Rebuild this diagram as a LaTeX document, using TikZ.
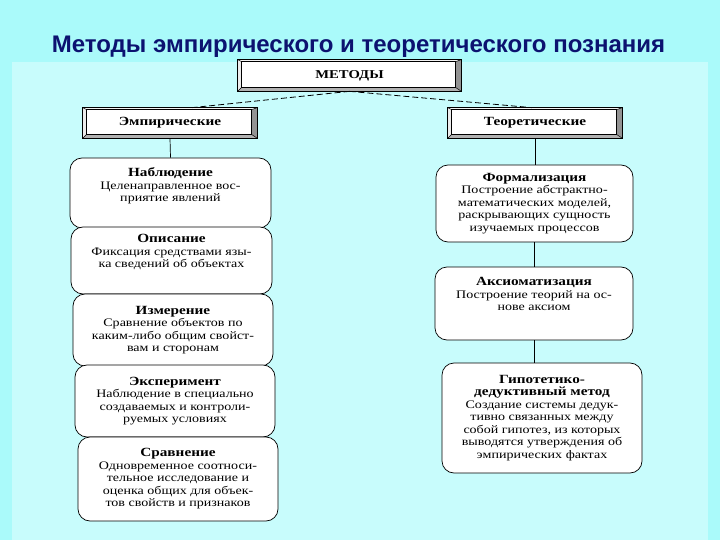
\documentclass[tikz,border=0pt]{standalone}
\usepackage{fontspec}
\usepackage{xcolor}
\usepackage{tikz}
\usetikzlibrary{calc}
\setmainfont{Liberation Serif}
\newfontfamily\boxfont[FakeStretch=1.22]{Liberation Serif}
\newfontfamily\titlefont{Liberation Sans}
\definecolor{outerbg}{RGB}{170,250,250}
\definecolor{innerbg}{RGB}{200,252,252}
\definecolor{titleblue}{RGB}{12,18,112}
\newcommand\headfont{\bfseries\fontsize{12.5}{12.5}\selectfont}
\tikzset{
  every path/.style = {line width = 0.7pt},
  method/.style = {draw, fill = white, rounded corners = 12pt, align = center, inner sep = 0pt,
    font = \boxfont\fontsize{11.5}{12.5}\selectfont},
  bevel/.style = {draw, fill = white, inner sep = 0pt,
    font = \boxfont\bfseries\fontsize{12.5}{14}\selectfont},
  link/.style = {line width = 0.7pt},
  branch/.style = {line width = 0.8pt, dash pattern = on 6pt off 3pt}
}

\begin{document}
\begin{tikzpicture}[x = 1pt, y = -1pt]
	\useasboundingbox (0,0) rectangle (720,540);
	\fill [outerbg] (0,0) rectangle (720,540);
	\fill [innerbg] (12,62) rectangle (708,540);
	\node [anchor = base, text = titleblue, font = \titlefont\bfseries\fontsize{24}{28}\selectfont] (title) at (358.5,53) {Методы эмпирического и теоретического познания};
	% top boxes
	\node [bevel, minimum width = 223, minimum height = 31] (metody) at (349.5,75.5) {\fontsize{12}{14}\selectfont МЕТОДЫ};
	\node [bevel, minimum width = 174, minimum height = 30] (emp) at (170,123) {Эмпирические};
	\node [bevel, minimum width = 174, minimum height = 30] (teor) at (535,123) {Теоретические};
	\foreach \n in {metody,emp,teor} {
		\fill [gray!15] (\n.north west) -- (\n.south west) -- ($(\n.south west)+(4,-4)$) -- ($(\n.north west)+(4,2)$) -- cycle;
		\fill [gray!10] (\n.north west) -- (\n.north east) -- ($(\n.north east)+(-6,2)$) -- ($(\n.north west)+(4,2)$) -- cycle;
		\fill [gray!60] (\n.south west) -- (\n.south east) -- ($(\n.south east)+(-6,-4)$) -- ($(\n.south west)+(4,-4)$) -- cycle;
		\fill [gray!85] (\n.north east) -- (\n.south east) -- ($(\n.south east)+(-6,-4)$) -- ($(\n.north east)+(-6,2)$) -- cycle;
		\draw (\n.north west) rectangle (\n.south east);
		\draw [line width = 0.5pt] ($(\n.north west)+(4,2)$) rectangle ($(\n.south east)+(-6,-4)$);
		\draw [line width = 0.5pt] (\n.north west) -- ++(4,2) (\n.south west) -- ++(4,-4);
		\draw [line width = 0.5pt] (\n.north east) -- ++(-6,2) (\n.south east) -- ++(-6,-4);
	}
	\coordinate (empTop) at ($(emp.north)+(22,0)$);
	\coordinate (teorTop) at ($(teor.north)+(-3,0)$);
	\draw [branch] (metody.south) -- (empTop);
	\draw [branch] (metody.south) -- (teorTop);
	% empirical methods
	\node [method, minimum width = 201, minimum height = 70] (nab) at (170.5,193) {{\headfont Наблюдение}\\Целенаправленное вос-\\приятие явлений\\[4pt]};
	\node [method, minimum width = 201, minimum height = 67] (opis) at (171.5,260.5) {{\headfont Описание}\\Фиксация средствами язы-\\ка сведений об объектах\\[6pt]};
	\node [method, minimum width = 200, minimum height = 72] (izm) at (173,330) {{\headfont Измерение}\\Сравнение объектов по\\каким-либо общим свойст-\\вам и сторонам};
	\node [method, minimum width = 200, minimum height = 72] (eksp) at (175,401) {{\headfont Эксперимент}\\Наблюдение в специально\\создаваемых и контроли-\\руемых условиях};
	\node [method, minimum width = 200, minimum height = 84] (srav) at (178,479) {{\headfont Сравнение}\\Одновременное соотноси-\\тельное исследование и\\оценка общих для объек-\\тов свойств и признаков};
	% theoretical methods
	\node [method, minimum width = 197, minimum height = 77] (form) at (534.5,203.5) {{\headfont Формализация}\\Построение абстрактно-\\математических моделей,\\раскрывающих сущность\\изучаемых процессов};
	\node [method, minimum width = 198, minimum height = 73] (aks) at (534,303.5) {{\headfont Аксиоматизация}\\Построение теорий на ос-\\нове аксиом\\[6pt]};
	\node [method, minimum width = 200, minimum height = 110] (gip) at (542,418) {{\headfont Гипотетико-}\\{\headfont дедуктивный метод}\\Создание системы дедук-\\тивно связанных между\\собой гипотез, из которых\\выводятся утверждения об\\эмпирических фактах};
	\draw [link] (emp.south) -- (nab.north);
	\draw [link] (teor.south) -- (teor.south |- form.north);
	\draw [link] (form.south) -- (form.south |- aks.north);
	\draw [link] (aks.south) -- (aks.south |- gip.north);
\end{tikzpicture}
\end{document}
